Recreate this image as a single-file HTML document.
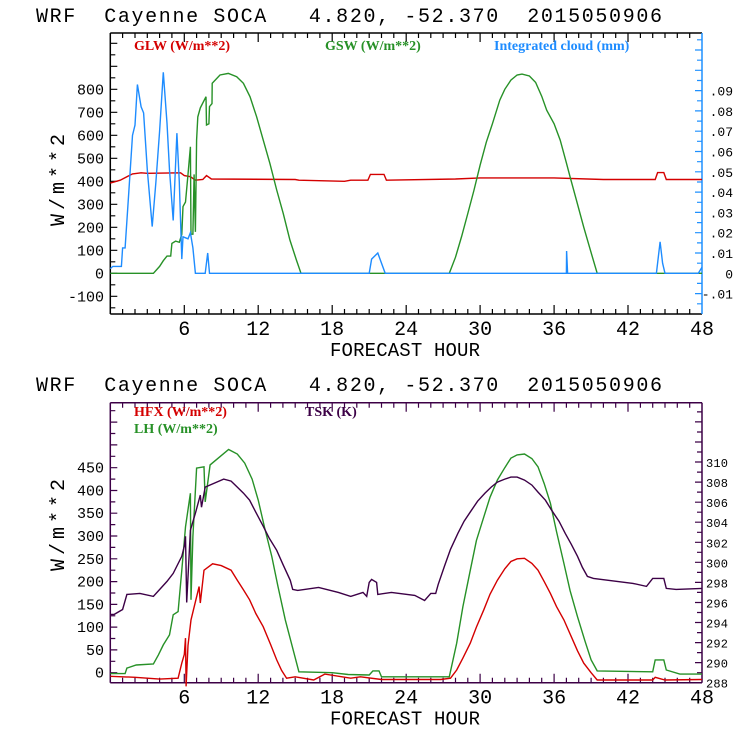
<!DOCTYPE html>
<html><head><meta charset="utf-8">
<style>
html,body{margin:0;padding:0;background:#fff;}
svg{display:block;}
text{font-family:"Liberation Mono","DejaVu Sans Mono",monospace;}
.ttl{white-space:pre;}
.leg{font-family:"Liberation Serif",serif;font-weight:bold;font-size:14px;}
</style></head>
<body>
<svg id="chart" width="740" height="740" viewBox="0 0 740 740" xmlns="http://www.w3.org/2000/svg">
<rect x="0" y="0" width="740" height="740" fill="#fff"/>
<g id="top"></g>
<g id="bot"></g>
</svg>
<script>
// ---- Top panel data ----
const glwHours = [0,0.8,1.8,2.5,3.0,5.7,6.0,6.5,6.9,7.5,7.8,8.2,15.0,15.3,19.0,19.5,20.9,21.1,22.2,22.4,28,30,36,40,44.2,44.4,44.9,45.1,48];
const glwValues = [392,405,432,437,435,437,425,420,405,408,425,410,408,405,400,405,405,430,430,405,410,415,415,408,408,438,438,408,408];
const gswHours = [0,3.5,4.0,4.3,4.6,4.9,5.0,5.3,5.6,5.8,5.9,6.1,6.3,6.5,6.55,6.7,6.8,6.9,7.0,7.1,7.3,7.76,7.8,8.0,8.05,8.25,8.27,8.9,9.57,10.25,10.8,11.33,11.87,12.4,12.95,13.5,14.03,14.57,15.1,15.47,27.5,28,28.5,29,29.5,30,30.5,31,31.6,32,32.5,33,33.4,34,34.5,35,35.4,36,36.5,37,37.3,37.8,38.4,39,39.5,48];
const gswValues = [0,0,30,55,75,75,130,140,135,170,290,310,430,550,170,170,430,180,580,680,719,768,645,650,725,738,826,862,869,855,826,768,681,580,478,362,261,145,58,0,0,70,160,260,360,470,570,650,753,800,840,862,866,858,830,770,709,650,579,480,419,320,201,90,0,0];
const cloudHours = [0,0.2,0.9,1.0,1.2,1.5,1.8,2.0,2.2,2.5,2.7,3.0,3.4,3.7,4.0,4.3,4.6,4.8,5.1,5.4,5.6,5.8,5.9,6.3,6.5,6.7,6.9,7.7,7.9,8.05,21.0,21.2,21.7,22.3,37.0,37.02,37.1,44.3,44.6,44.8,45.0,47.7,48];
const cloudValues = [0.0023,0.0034,0.0034,0.0125,0.0125,0.040,0.068,0.073,0.093,0.082,0.079,0.051,0.023,0.045,0.070,0.099,0.074,0.051,0.026,0.069,0.045,0.007,0.018,0.017,0.020,0.0125,0,0,0.010,0,0,0.007,0.010,0,0,0.011,0,0,0.0155,0.005,0,0,0.003];
const topLeftTicks = [-100,0,100,200,300,400,500,600,700,800];
const topRightTicks = [-0.01,0,0.01,0.02,0.03,0.04,0.05,0.06,0.07,0.08,0.09];
const topRightLabels = ["-.01","0",".01",".02",".03",".04",".05",".06",".07",".08",".09"];
const xTicks = [6,12,18,24,30,36,42,48];
// ---- Bottom panel data ----
const hfxHours = [0,2,4,5.5,5.8,6.0,6.1,6.15,6.3,6.55,7.2,7.3,7.6,8.3,9.0,9.8,10.3,10.8,11.3,11.8,12.4,13,13.5,13.9,14.3,15,16.5,17.4,19.5,20.3,22,26.8,27.6,28.1,28.6,29.2,29.7,30.3,30.8,31.4,32,32.5,33,33.6,34.2,34.7,35.2,35.7,36.2,36.8,37.4,37.9,38.4,39,39.5,44,44.2,45,48];
const hfxValues = [-8,-10,-14,-12,21,40,76,-30,60,116,189,153,225,239,235,225,203,182,160,130,101,62,28,5,-12,-9,-16,-3,-12,-9,-15,-15,-12,6,32,65,100,138,172,203,228,244,250,251,240,225,200,174,145,116,79,48,21,0,-16,-16,-10,-16,-15];
const lhHours = [0,1.2,1.35,2.1,3.5,3.9,4.3,4.8,5.1,5.5,5.8,6.1,6.5,6.55,6.7,7.0,7.6,7.7,8.1,9.6,10.3,10.9,11.5,12.0,12.5,13.1,13.6,14.2,15.3,18.0,19.3,21.0,21.3,21.8,22.0,27.5,28.1,28.6,29.2,29.7,30.3,30.8,31.4,32,32.5,33,33.6,34.2,34.7,35.2,35.7,36.2,36.8,37.3,37.9,38.5,39.0,39.5,44.0,44.2,44.9,45.1,46.2,48];
const lhValues = [-2,-2,10,17,19,39,61,83,127,134,225,320,394,160,299,449,452,375,456,490,480,460,425,379,320,255,190,116,2,0,-4,-5,4,4,-9,-9,65,145,225,290,342,385,423,450,471,478,480,470,452,415,372,310,240,180,123,70,28,4,2,28,28,6,-3,-3];
const tskHours = [0,0.3,1.0,1.35,2.4,3.5,4.6,5.1,5.8,6.0,6.1,6.2,6.5,6.9,7.3,7.4,7.7,9.2,9.8,10.3,10.8,11.3,11.8,12.4,12.9,13.5,14.0,14.6,14.8,15.2,16.9,18.5,19.5,20.5,20.8,21.0,21.2,21.6,21.7,22.8,24.7,25.5,26.0,26.4,26.6,27.1,27.6,28.2,28.7,29.3,29.8,30.4,30.9,31.4,32,32.5,33,33.6,34.2,34.7,35.3,35.8,36.4,36.9,37.4,37.9,38.3,38.7,39.2,42.4,43.5,44.0,44.9,45.1,45.9,48];
const tskValues = [294.8,294.8,295.3,296.8,296.9,296.6,298.1,298.9,300.6,301.6,302.6,296.0,303.2,304.9,306.7,305.5,307.5,308.3,308.1,307.5,306.9,306.2,305.0,303.6,302.4,301.2,299.8,298.2,297.3,297.2,297.5,297.0,296.6,297.0,296.6,298.0,298.3,298.0,296.8,297.0,296.7,296.2,296.9,296.9,297.8,299.6,301.3,302.9,304.1,305.2,306.1,306.9,307.5,308.0,308.3,308.5,308.5,308.2,307.7,307.0,306.2,305.2,304.1,302.9,301.8,300.6,299.5,298.6,298.4,297.9,297.6,298.4,298.4,297.4,297.3,297.4];
const botLeftTicks = [0,50,100,150,200,250,300,350,400,450];
const botRightTicks = [288,290,292,294,296,298,300,302,304,306,308,310];

const NS="http://www.w3.org/2000/svg";
function mk(parent,tag,attrs,txt){const e=document.createElementNS(NS,tag);for(const k in attrs)e.setAttribute(k,attrs[k]);if(txt!==undefined)e.textContent=txt;parent.appendChild(e);return e;}
const X0=110.3,X1=702;
const xs=h=>X0+(X1-X0)*h/48;
const T={top:33,bot:314};
const yTL=v=>273.3-0.23*v;
const yTR=v=>273.3-2030*v;
const B={top:402.7,bot:682.7};
const yBL=v=>672.7-0.4556*v;
const yBR=k=>682.7-(k-288)*10.03;

function pts(hs,vs,ys){return hs.map((h,i)=>xs(h).toFixed(1)+","+ys(vs[i]).toFixed(1)).join(" ");}

function frame(g,box,leftCol,rightCol){
  const b=mk(g,"path",{d:`M${X0},${box.top}H${X1}M${X0},${box.bot}H${X1}M${X0},${box.top}V${box.bot}`,stroke:leftCol,"stroke-width":1.5,fill:"none"});
  
  
  const r=mk(g,"line",{x1:X1,y1:box.top,x2:X1,y2:box.bot,stroke:rightCol,"stroke-width":1.5});
  
  
  let d="";
  for(let h=1;h<48;h++){const L=(h%6===0)?9:5;const x=xs(h).toFixed(1);d+=`M${x},${box.bot}v${-L}M${x},${box.top}v${L}`;}
  const t=mk(g,"path",{d:d,stroke:leftCol,"stroke-width":1.2});
  
  
  xTicks.forEach(h=>{const l=mk(g,"text",{x:xs(h),y:box.bot+21,"font-size":20,"text-anchor":"middle"},String(h));
    
    });
  const xt=mk(g,"text",{x:405,y:box.bot+42,"font-size":19,"text-anchor":"middle",textLength:150},"FORECAST HOUR");
  
  
}
function title(g,y){
  const t=mk(g,"text",{x:36,y:y,"font-size":20,class:"ttl",textLength:626},"WRF  Cayenne SOCA   4.820, -52.370  2015050906");
  
  
}
function ylabel(g,cy){
  const t=mk(g,"text",{x:0,y:0,"font-size":20,"text-anchor":"middle",textLength:92,transform:`translate(64,${cy}) rotate(-90)`},"W/m**2");
  
  
}
function series(g,hs,vs,ys,col,name){
  const p=mk(g,"polyline",{points:pts(hs,vs,ys),fill:"none",stroke:col,"stroke-width":1.4,"stroke-linejoin":"miter"});
  
  
}
function leg(g,x,y,col,txt,name){
  const t=mk(g,"text",{x:x,y:y,fill:col,class:"leg"},txt);
  
  
}

// ===== TOP =====
const gt=document.getElementById("top");
title(gt,22);
frame(gt,T,"#000","#1e90ff");
(function(){
  let d="";
  for(let v=-150;v<=1050;v+=50){const y=yTL(v);if(y<T.top+1||y>T.bot-1)continue;d+=`M${X0},${y.toFixed(1)}h${v%100===0?7:5}`;}
  const t=mk(gt,"path",{d:d,stroke:"#000","stroke-width":1.2});
  
  
  let d2="";
  for(let i=-4;i<=24;i++){const v=i*0.005;const y=yTR(v);if(y<T.top+1||y>T.bot-1)continue;d2+=`M${X1},${y.toFixed(1)}h${i%2===0?-7:-5}`;}
  const t2=mk(gt,"path",{d:d2,stroke:"#1e90ff","stroke-width":1.2});
  
  
})();
topLeftTicks.forEach(v=>{const l=mk(gt,"text",{x:104,y:yTL(v)+5,"font-size":15,"text-anchor":"end"},String(v));
  
  });
topRightTicks.forEach((v,i)=>{const l=mk(gt,"text",{x:733,y:yTR(v)+5,"font-size":13,"text-anchor":"end"},topRightLabels[i]);
  
  });
ylabel(gt,180);
series(gt,glwHours,glwValues,yTL,"#d40000","glw-line");
series(gt,gswHours,gswValues,yTL,"#279127","gsw-line");
series(gt,cloudHours,cloudValues,yTR,"#1e8cff","cloud-line");
leg(gt,134,50,"#d40000","GLW (W/m**2)","legend-glw");
leg(gt,325,50,"#279127","GSW (W/m**2)","legend-gsw");
leg(gt,494,50,"#1e8cff","Integrated cloud (mm)","legend-cloud");

// ===== BOTTOM =====
const gb=document.getElementById("bot");
title(gb,391);
frame(gb,B,"#3c0046","#3c0046");
(function(){
  let d="";
  for(let v=-25;v<=600;v+=25){const y=yBL(v);if(y<B.top+1||y>B.bot-1)continue;d+=`M${X0},${y.toFixed(1)}h${v%50===0?7:5}`;}
  const t=mk(gb,"path",{d:d,stroke:"#3c0046","stroke-width":1.2});
  
  
  let d2="";
  for(let k=289;k<=316;k++){const y=yBR(k);if(y<B.top+1)continue;d2+=`M${X1},${y.toFixed(1)}h${k%2===0?-7:-5}`;}
  const t2=mk(gb,"path",{d:d2,stroke:"#3c0046","stroke-width":1.2});
  
  
})();
botLeftTicks.forEach(v=>{const l=mk(gb,"text",{x:104,y:yBL(v)+5,"font-size":15,"text-anchor":"end"},String(v));
  
  });
botRightTicks.forEach(v=>{const l=mk(gb,"text",{x:706,y:yBR(v)+5,"font-size":12,textLength:22},String(v));
  
  });
ylabel(gb,525);
series(gb,lhHours,lhValues,yBL,"#279127","lh-line");
series(gb,tskHours,tskValues,yBR,"#3c0046","tsk-line");
series(gb,hfxHours,hfxValues,yBL,"#d40000","hfx-line");
leg(gb,134,416,"#d40000","HFX (W/m**2)","legend-hfx");
leg(gb,134,433,"#279127","LH (W/m**2)","legend-lh");
leg(gb,305,416,"#3c0046","TSK (K)","legend-tsk");
</script>
</body></html>
